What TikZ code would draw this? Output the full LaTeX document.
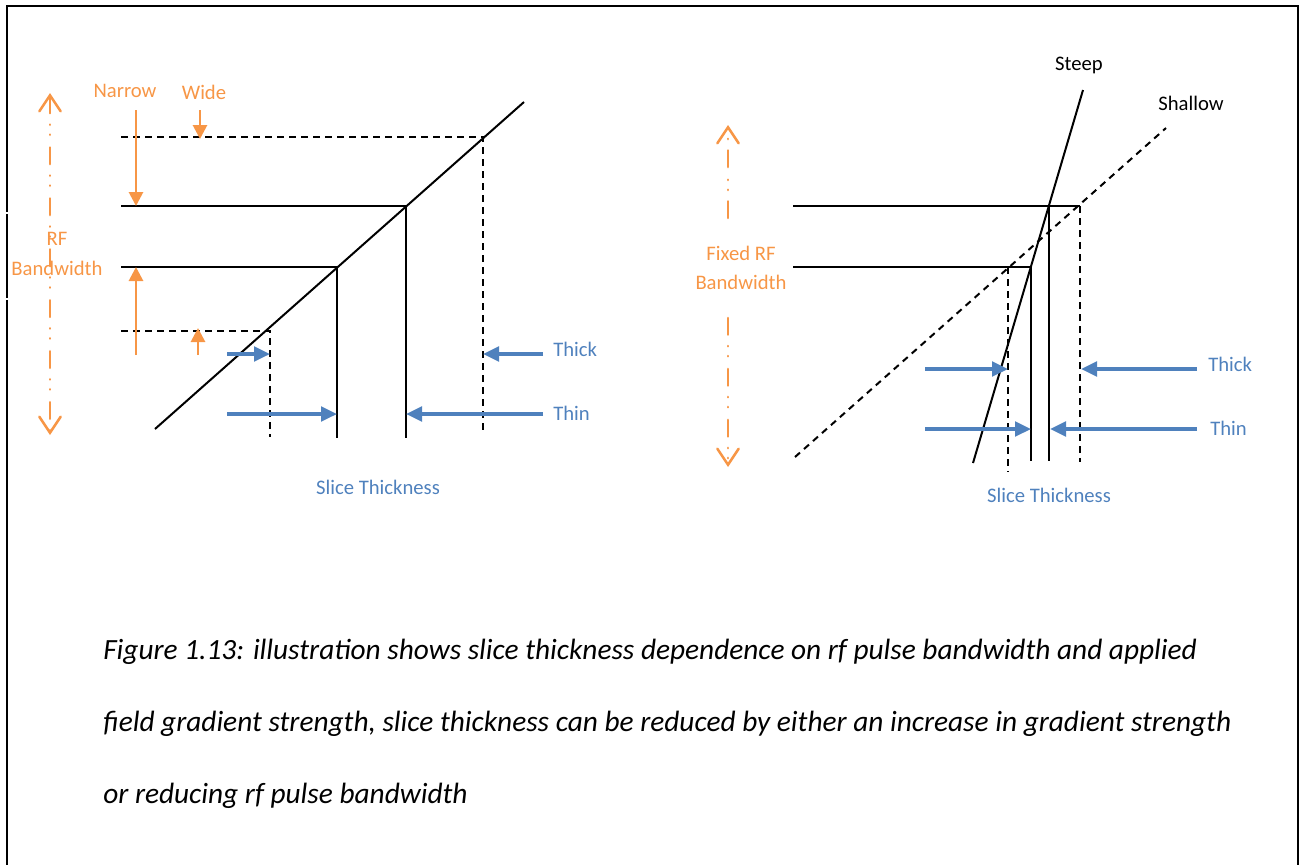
\documentclass[tikz,border=0pt]{standalone}
\usepackage{fontspec}
\setmainfont{Carlito}
\usetikzlibrary{arrows.meta}
\definecolor{oblue}{HTML}{4F81BD}
\definecolor{oorange}{HTML}{F79646}
\begin{document}
\begin{tikzpicture}[x=0.75pt,y=-0.75pt,
  frame/.style={line width=1.5pt,black},
  blk/.style={line width=1.5pt,black},
  dsh/.style={blk,dash pattern=on 5pt off 4pt},
  barrow/.style={oblue,line width=2.5pt,-{Triangle[length=12pt,width=11pt]}},
  oarrow/.style={oorange,line width=2.1pt,-{Triangle[length=10.5pt,width=10.5pt]}},
  ddline/.style={oorange,line width=1.9pt,line cap=round,dash pattern=on 12.5pt off 8.5pt on 0.2pt off 7.3pt on 0.2pt off 9.5pt},
  lbl/.style={inner sep=0pt,font=\fontsize{15.5}{18}\selectfont},
  blbl/.style={lbl,text=oblue},
  olbl/.style={lbl,text=oorange},
  klbl/.style={lbl,text=black},
  captext/.style={inner sep=0pt,anchor=base west,font=\fontsize{22}{26}\selectfont\itshape}]
\useasboundingbox (0,0) rectangle (1302,865);
% frame
\draw[frame] (7,212) -- (7,6) -- (1298,6) -- (1298,865);
\draw[frame] (7,214) -- (7,298);
\draw[frame] (7,300) -- (7,865);

% ---------- left diagram ----------
\coordinate (ldA) at (155,429);
\coordinate (ldB) at (524,102);
\draw[blk] (ldA) -- (ldB);
\coordinate (h1l) at (121,137); \coordinate (h1r) at (483,137); \coordinate (h1b) at (483,433);
\coordinate (h2l) at (121,206); \coordinate (h2r) at (406,206); \coordinate (h2b) at (406,438);
\coordinate (h3l) at (121,267); \coordinate (h3r) at (337,267); \coordinate (h3b) at (337,438);
\coordinate (h4l) at (121,331); \coordinate (h4r) at (270,331); \coordinate (h4b) at (270,437);
\draw[dsh] (h1l) -- (h1r) -- (h1b);
\draw[blk] (h2l) -- (h2r) -- (h2b);
\draw[blk] (h3l) -- (h3r) -- (h3b);
\draw[dsh] (h4l) -- (h4r) -- (h4b);

% orange arrows
\coordinate (nA) at (136,110); \coordinate (nB) at (136,206);
\coordinate (wA) at (200,110); \coordinate (wB) at (200,139);
\coordinate (uA) at (136,355); \coordinate (uB) at (136,267);
\coordinate (sA) at (198,355); \coordinate (sB) at (198,328);
\draw[oarrow] (nA) -- (nB);
\draw[oarrow] (wA) -- (wB);
\draw[oarrow] (uA) -- (uB);
\draw[oarrow] (sA) -- (sB);
\coordinate (rfT) at (50,93); \coordinate (rfB) at (50,435);
\draw[ddline,{Straight Barb[length=12pt,width=16pt,line cap=round]}-{Straight Barb[length=12pt,width=16pt,line cap=round]}] (rfT) -- (rfB);

% blue arrows
\coordinate (b1a) at (227,354); \coordinate (b2a) at (227,414);
\coordinate (b3a) at (543,354); \coordinate (b4a) at (543,414);
\coordinate (b1b) at (270,354); \coordinate (b2b) at (337,414);
\coordinate (b3b) at (483,354); \coordinate (b4b) at (406,414);
\draw[barrow] (b1a) -- (b1b);
\draw[barrow] (b2a) -- (b2b);
\draw[barrow] (b3a) -- (b3b);
\draw[barrow] (b4a) -- (b4b);

% left labels
\node[olbl,anchor=base] (narrow) at (125,97) {Narrow};
\node[olbl,anchor=base] (wide) at (204,99) {Wide};
\node[olbl,anchor=base] (rf1) at (57,245) {RF};
\node[olbl,anchor=base] (bw1) at (57,275) {Bandwidth};
\node[blbl,anchor=base west] (thickL) at (553,356) {Thick};
\node[blbl,anchor=base west] (thinL) at (553,420) {Thin};
\node[blbl,anchor=base] (sliceL) at (378,494) {Slice Thickness};

% ---------- right diagram ----------
\coordinate (stA) at (973,463); \coordinate (stB) at (1083,90);
\coordinate (shA) at (795,457); \coordinate (shB) at (1166,128);
\draw[blk] (stA) -- (stB);
\draw[dsh] (shA) -- (shB);
\coordinate (r1l) at (793,206); \coordinate (r1r) at (1080,206); \coordinate (r1b) at (1080,462);
\coordinate (r2t) at (1049,206); \coordinate (r2b) at (1049,461);
\coordinate (r3l) at (793,267); \coordinate (r3r) at (1031,267); \coordinate (r3b) at (1031,461);
\coordinate (r4t) at (1008,267); \coordinate (r4b) at (1008,472);
\draw[blk] (r1l) -- (r1r);
\draw[dsh] (r1r) -- (r1b);
\draw[blk] (r2t) -- (r2b);
\draw[blk] (r3l) -- (r3r) -- (r3b);
\draw[dsh] (r4t) -- (r4b);

\coordinate (c1a) at (925,369); \coordinate (c1b) at (1008,369);
\coordinate (c2a) at (925,429); \coordinate (c2b) at (1031,429);
\coordinate (c3a) at (1197,369); \coordinate (c3b) at (1081,369);
\coordinate (c4a) at (1197,429); \coordinate (c4b) at (1050,429);
\draw[barrow] (c1a) -- (c1b);
\draw[barrow] (c2a) -- (c2b);
\draw[barrow] (c3a) -- (c3b);
\draw[barrow] (c4a) -- (c4b);

\coordinate (fuA) at (728,218); \coordinate (fuB) at (728,125);
\coordinate (fdA) at (728,318); \coordinate (fdB) at (728,467);
\draw[ddline,-{Straight Barb[length=12pt,width=16pt,line cap=round]}] (fuA) -- (fuB);
\draw[ddline,-{Straight Barb[length=12pt,width=16pt,line cap=round]}] (fdA) -- (fdB);

\node[klbl,anchor=base] (steep) at (1079,70) {Steep};
\node[klbl,anchor=base] (shallow) at (1191,110) {Shallow};
\node[olbl,anchor=base] (fixed) at (741,260) {Fixed RF};
\node[olbl,anchor=base] (bw2) at (741,289) {Bandwidth};
\node[blbl,anchor=base west] (thickR) at (1208,371) {Thick};
\node[blbl,anchor=base west] (thinR) at (1210,435) {Thin};
\node[blbl,anchor=base] (sliceR) at (1049,502) {Slice Thickness};

% caption
\node[captext] (cap1) at (103,659) {Figure 1.13: illustration shows slice thickness dependence on rf pulse bandwidth and applied};
\node[captext] (cap2) at (103,731) {field gradient strength, slice thickness can be reduced by either an increase in gradient strength};
\node[captext] (cap3) at (103,803) {or reducing rf pulse bandwidth};
\end{tikzpicture}
\end{document}
